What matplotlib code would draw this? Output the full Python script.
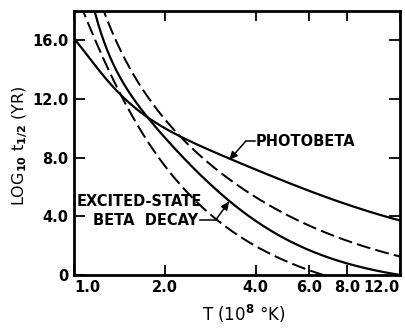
import numpy as np
import matplotlib
matplotlib.use("Agg")
import matplotlib.pyplot as plt

plt.rcParams['font.family'] = ['DejaVu Sans']
plt.rcParams['font.weight'] = 'bold'
plt.rcParams['mathtext.default'] = 'bf'

# ---- data ----
photobeta_T = [1.0, 1.266, 1.435, 1.75, 2.34, 3.24, 4.26, 6.05, 8.6, 12.0]
photobeta_v = [16.1, 13.43, 12.25, 10.79, 9.32, 7.84, 6.9, 5.79, 4.77, 3.7]

excited_T = [1.17, 1.311, 1.468, 1.622, 1.795, 2.335, 2.71, 3.32, 4.05, 4.8, 6.0, 8.0, 12.0]
excited_v = [18.0, 15.34, 12.84, 11.47, 10.34, 8.07, 6.7, 4.89, 3.52, 2.6, 1.65, 0.8, 0.0]

lower_dash_T = [1.072, 1.22, 1.379, 1.449, 1.622, 1.91, 2.22, 2.5, 3.4, 3.76, 5.0, 5.48, 6.69]
lower_dash_v = [18.0, 15.4, 13.07, 11.93, 9.88, 8.1, 6.48, 5.2, 2.84, 2.16, 0.94, 0.57, 0.0]

upper_dash_T = [1.256, 1.413, 1.622, 1.838, 2.085, 2.78, 3.57, 4.6, 6.2, 8.0, 12.0]
upper_dash_v = [18.0, 15.34, 13.29, 11.7, 10.1, 7.6, 6.02, 4.43, 3.3, 2.47, 1.25]

x_ticks = [1, 2, 4, 6, 8, 12]
x_tick_labels = ["1.0", "2.0", "4.0", "6.0", "8.0", "12.0"]
y_ticks = [0, 4, 8, 12, 16]
y_tick_labels = ["0", "4.0", "8.0", "12.0", "16.0"]


def smooth(T, v, n=300, deg=4):
    """Least-squares smoothing of the read points in 1/T (display only)."""
    T = np.asarray(T, float)
    v = np.asarray(v, float)
    u = 1.0 / T
    w = np.ones_like(u)
    w[0] = w[-1] = 4.0
    c = np.polyfit(u, v, deg, w=w)
    Ts = np.geomspace(T[0] * 0.98, T[-1] * 1.02, n)
    return Ts, np.polyval(c, 1.0 / Ts)


fig = plt.figure(figsize=(4.06, 3.30), dpi=100)
ax = fig.add_axes([0.182, 0.167, 0.803, 0.800])

lw = 1.6
ax.plot(*smooth(photobeta_T, photobeta_v), color='black', lw=lw)
ax.plot(*smooth(excited_T, excited_v), color='black', lw=lw)
ax.plot(*smooth(lower_dash_T, lower_dash_v), color='black', lw=lw * 0.9, dashes=(7, 2.6))
ax.plot(*smooth(upper_dash_T, upper_dash_v), color='black', lw=lw * 0.9, dashes=(7, 2.6))

ax.set_xscale('log')
ax.set_xlim(1, 12)
ax.set_ylim(0, 18)
ax.xaxis.set_minor_locator(matplotlib.ticker.NullLocator())
ax.set_xticks(x_ticks)
ax.set_xticklabels(x_tick_labels)
ax.set_yticks(y_ticks)
ax.set_yticklabels(y_tick_labels)
ax.tick_params(axis='both', direction='in', top=True, right=True, width=1.3,
               labelsize=10.5, pad=4)
ax.tick_params(axis='y', length=8)
ax.tick_params(axis='x', length=7)
labs = ax.get_xticklabels()
labs[0].set_ha('left')
labs[-1].set_ha('right')
for s in ax.spines.values():
    s.set_linewidth(2.0)

ax.set_ylabel(r"LOG$_{10}$ t$_{1/2}$ (YR)", fontsize=11.5)
ax.yaxis.set_label_coords(-0.135, 0.49)
ax.set_xlabel(r"T (10$^{8}$ °K)", fontsize=12)
ax.xaxis.set_label_coords(0.52, -0.105)

# annotations
pb_tip_T = 3.26
pb_tip_v = np.interp(np.log10(pb_tip_T), np.log10(photobeta_T), photobeta_v)
ax.text(3.99, 9.1, "PHOTOBETA", fontsize=10.5, ha='left', va='center')
ax.plot([3.98, 3.7], [9.1, 9.1], color='black', lw=1.1)
ax.annotate('', xy=(pb_tip_T, pb_tip_v), xytext=(3.7, 9.1),
            arrowprops=dict(arrowstyle='-|>,head_length=0.5,head_width=0.22',
                            color='black', lw=1.1, shrinkA=0, shrinkB=0))

ex_tip_T = 3.27
ex_tip_v = np.interp(np.log10(ex_tip_T), np.log10(excited_T), excited_v)
ax.text(2.66, 5.0, "EXCITED-STATE", fontsize=10.5, ha='right', va='center')
ax.text(2.58, 3.7, "BETA  DECAY", fontsize=10.5, ha='right', va='center')
ax.plot([2.62, 2.95], [3.75, 3.75], color='black', lw=1.1)
ax.annotate('', xy=(ex_tip_T, ex_tip_v), xytext=(2.95, 3.75),
            arrowprops=dict(arrowstyle='-|>,head_length=0.5,head_width=0.22',
                            color='black', lw=1.1, shrinkA=0, shrinkB=0))

fig.savefig("out.png", dpi=100)
